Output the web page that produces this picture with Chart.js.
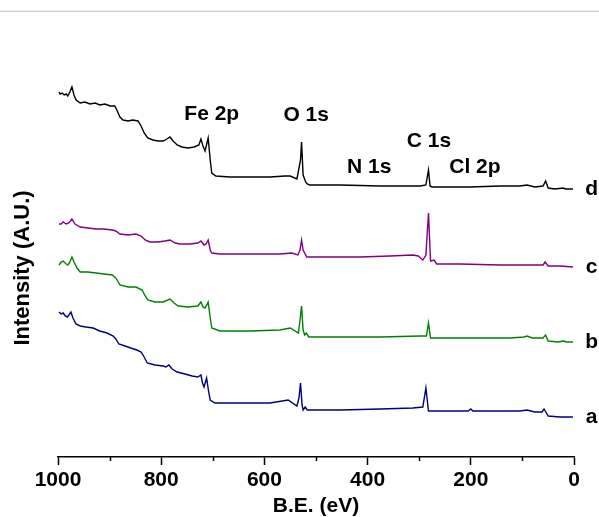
<!DOCTYPE html>
<html>
<head>
<meta charset="utf-8">
<title>XPS survey</title>
<script src="https://cdn.jsdelivr.net/npm/chart.js@4.4.1/dist/chart.umd.min.js"></script>
<style>
  body { margin: 0; background: #fff; }
  canvas { display: block; }
</style>
</head>
<body>
<canvas id="xps" width="599" height="517"></canvas>
<script>
// binding energy (eV), intensity (arbitrary, stacked)
const traceD = [
  [998, 365], [996, 363], [992, 364], [988, 362], [984, 363], [981, 361], [977, 365], [973, 370],
  [969, 362], [965, 357], [957, 354], [948, 355], [938, 353], [928, 354], [919, 352], [909, 353],
  [899, 351], [890, 351], [886, 347], [880, 340], [874, 337], [864, 336], [855, 337], [845, 336],
  [839, 331], [833, 324], [826, 319], [816, 317], [806, 316], [796, 316], [789, 318], [783, 320],
  [777, 316], [769, 312], [760, 310], [748, 309], [736, 310], [727, 312], [723, 318], [719, 311],
  [715, 306], [709, 319], [705, 297], [702, 284], [694, 281], [667, 280], [628, 280], [589, 280],
  [560, 281], [550, 281], [537, 278], [530, 297], [528, 315], [525, 282], [520, 275], [517, 273],
  [512, 272], [453, 272], [376, 271], [298, 271], [287, 272], [282, 287], [279, 271], [275, 270],
  [202, 270], [143, 271], [105, 271], [91, 272], [76, 270], [60, 271], [55, 276], [50, 269],
  [37, 268], [21, 269], [16, 268], [2, 268]
];

const traceC = [
  [998, 233], [994, 233], [990, 235], [984, 233], [979, 234], [973, 238], [967, 233], [957, 230],
  [942, 229], [926, 228], [911, 228], [895, 227], [888, 226], [880, 223], [864, 222], [849, 223],
  [839, 221], [831, 217], [822, 215], [806, 215], [793, 216], [783, 217], [773, 214], [764, 213],
  [744, 213], [729, 214], [723, 216], [717, 212], [713, 213], [709, 217], [705, 207], [702, 204],
  [686, 203], [628, 203], [570, 203], [547, 204], [535, 202], [531, 207], [528, 217], [525, 207],
  [518, 200], [473, 200], [415, 200], [357, 201], [312, 202], [302, 201], [293, 197], [287, 202],
  [282, 244], [278, 196], [271, 197], [266, 193], [221, 193], [143, 192], [85, 192], [60, 192],
  [56, 195], [50, 191], [27, 191], [2, 190]
];

const traceB = [
  [998, 192], [994, 195], [990, 196], [984, 193], [981, 192], [977, 195], [973, 200], [969, 195],
  [963, 189], [957, 185], [942, 185], [926, 184], [911, 183], [895, 182], [888, 179], [880, 172],
  [864, 170], [849, 170], [837, 167], [831, 161], [826, 157], [812, 155], [796, 155], [783, 158],
  [775, 154], [767, 151], [748, 150], [729, 151], [723, 155], [719, 150], [715, 149], [709, 155],
  [705, 139], [702, 129], [686, 126], [628, 126], [570, 127], [550, 129], [534, 124], [531, 137],
  [528, 151], [525, 127], [522, 122], [519, 124], [514, 120], [453, 120], [376, 120], [298, 121],
  [286, 121], [282, 134], [278, 119], [202, 119], [124, 119], [97, 120], [91, 121], [81, 119],
  [60, 119], [55, 122], [50, 116], [31, 115], [21, 116], [14, 115], [2, 115]
];

const traceA = [
  [998, 145], [994, 143], [990, 144], [986, 141], [982, 140], [979, 142], [975, 145], [971, 139],
  [965, 133], [957, 131], [946, 130], [932, 129], [919, 126], [905, 124], [893, 121], [888, 118],
  [882, 113], [870, 111], [859, 109], [847, 107], [839, 105], [833, 100], [827, 94], [812, 92],
  [796, 91], [791, 90], [785, 92], [779, 88], [769, 85], [754, 83], [740, 81], [729, 80],
  [723, 82], [720, 74], [717, 70], [712, 79], [708, 65], [705, 57], [696, 54], [647, 54],
  [589, 54], [554, 57], [537, 51], [533, 59], [530, 74], [527, 52], [525, 47], [521, 50],
  [517, 47], [453, 47], [376, 48], [312, 49], [293, 50], [287, 69], [282, 46], [240, 46],
  [205, 46], [200, 48], [196, 46], [143, 46], [105, 46], [91, 47], [76, 45], [62, 45],
  [58, 48], [50, 41], [27, 40], [2, 40]
];

const traceNames = ['a', 'b', 'c', 'd'];
const traceColors = ['#000080', '#008000', '#800080', '#000000'];
const traceEnds = [40, 115, 190, 268];

const peakNames = ['Fe 2p', 'O 1s', 'N 1s', 'C 1s', 'Cl 2p'];
const peakBE = [702, 519, 397, 281, 192];
const peakLevel = [343, 342, 290, 316, 290];

const FONT = '"Liberation Sans", Arial, Helvetica, sans-serif';

const extras = {
  id: 'extras',
  beforeDraw(chart) {
    const ctx = chart.ctx;
    ctx.save();
    ctx.fillStyle = '#e8e8e8';
    ctx.fillRect(0, 10, chart.width, 1);
    ctx.fillStyle = '#d2d2d2';
    ctx.fillRect(0, 11, chart.width, 1);
    ctx.restore();
  },
  afterDraw(chart) {
    const ctx = chart.ctx;
    const x = chart.scales.x;
    const y = chart.scales.y;
    ctx.save();
    // minor ticks
    ctx.strokeStyle = '#000';
    ctx.lineWidth = 1.5;
    for (let v = 100; v < 1000; v += 200) {
      const px = Math.round(x.getPixelForValue(v)) + 0.5;
      ctx.beginPath();
      ctx.moveTo(px, x.top);
      ctx.lineTo(px, x.top + 4);
      ctx.stroke();
    }
    ctx.fillStyle = '#000';
    ctx.textAlign = 'center';
    ctx.textBaseline = 'middle';
    ctx.font = 'bold 21px ' + FONT;
    peakNames.forEach((name, i) => {
      ctx.fillText(name, x.getPixelForValue(peakBE[i]), y.getPixelForValue(peakLevel[i]));
    });
    traceNames.forEach((name, i) => {
      ctx.fillText(name, x.getPixelForValue(-34), y.getPixelForValue(traceEnds[i]));
    });
    // y title
    ctx.translate(23, 268);
    ctx.rotate(-Math.PI / 2);
    ctx.font = 'bold 22px ' + FONT;
    ctx.fillText('Intensity (A.U.)', 0, 0);
    ctx.restore();
  }
};

const series = [traceA, traceB, traceC, traceD];

new Chart(document.getElementById('xps'), {
  type: 'line',
  data: {
    datasets: series.map((pts, i) => ({
      label: traceNames[i],
      data: pts.map(p => ({ x: p[0], y: p[1] })),
      borderColor: traceColors[i],
      borderWidth: 1.4,
      pointRadius: 0,
      tension: 0,
      fill: false
    }))
  },
  options: {
    responsive: false,
    animation: false,
    devicePixelRatio: 1,
    layout: { padding: { left: 58, right: 25, top: 57, bottom: 0 } },
    plugins: { legend: { display: false }, tooltip: { enabled: false } },
    scales: {
      x: {
        type: 'linear',
        min: 0,
        max: 1000,
        reverse: true,
        afterFit(scale) { scale.height = 60; },
        border: { display: true, color: '#000', width: 1.5 },
        grid: {
          drawOnChartArea: false,
          drawTicks: true,
          tickLength: 8,
          tickWidth: 1.5,
          tickColor: c => (c.tick && c.tick.value % 200 === 0 ? '#000' : 'rgba(0,0,0,0)')
        },
        ticks: {
          stepSize: 100,
          padding: 3,
          color: '#000',
          font: { family: FONT, size: 21, weight: 'bold' },
          maxRotation: 0,
          autoSkip: false,
          callback: v => (v % 200 === 0 ? String(v) : '')
        },
        title: {
          display: true,
          text: 'B.E. (eV)',
          color: '#000',
          font: { family: FONT, size: 21, weight: 'bold', lineHeight: 1 },
          padding: { top: 0, bottom: 0 }
        }
      },
      y: {
        display: false,
        min: 0,
        max: 400
      }
    }
  },
  plugins: [extras]
});
</script>
</body>
</html>
